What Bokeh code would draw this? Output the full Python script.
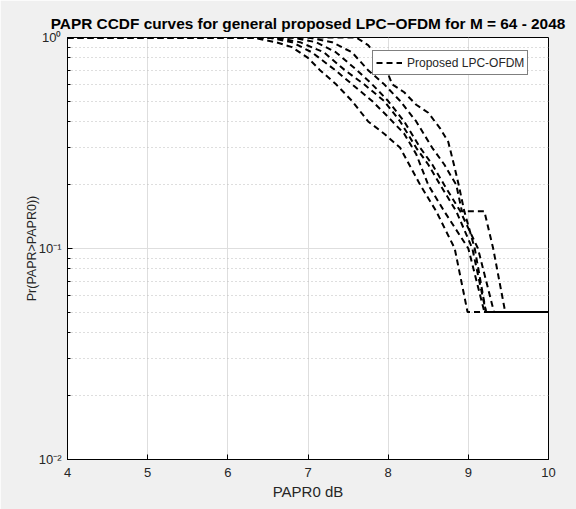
from bokeh.plotting import figure
from bokeh.models import FixedTicker, CustomJSTickFormatter, Range1d, Legend
from bokeh.embed import file_html
from bokeh.resources import INLINE

# ---- data ----
m64_x = [4.0, 6.3, 6.6, 6.8, 7.0, 7.15, 7.35, 7.55, 7.75, 7.95, 8.15, 8.4, 8.6, 8.83, 8.99, 10.0]
m64_y = [1.0, 1.0, 0.95, 0.9, 0.8, 0.7, 0.6, 0.5, 0.4, 0.35, 0.3, 0.2, 0.15, 0.1, 0.05, 0.05]

m128_x = [4.0, 6.5, 6.8, 7.05, 7.34, 7.55, 7.8, 8.0, 8.2, 8.35, 8.5, 8.7, 9.0, 9.2, 10.0]
m128_y = [1.0, 1.0, 0.95, 0.85, 0.7, 0.6, 0.5, 0.42, 0.35, 0.28, 0.2, 0.15, 0.1, 0.05, 0.05]

m256_x = [4.0, 6.6, 6.9, 7.2, 7.46, 7.7, 7.95, 8.15, 8.35, 8.5, 8.65, 8.85, 9.05, 9.22, 10.0]
m256_y = [1.0, 1.0, 0.95, 0.85, 0.7, 0.6, 0.5, 0.4, 0.3, 0.25, 0.2, 0.15, 0.1, 0.05, 0.05]

m512_x = [4.0, 6.8, 7.1, 7.35, 7.61, 7.8, 8.0, 8.2, 8.4, 8.55, 8.7, 8.9, 9.12, 9.32, 10.0]
m512_y = [1.0, 1.0, 0.95, 0.85, 0.7, 0.6, 0.5, 0.4, 0.3, 0.25, 0.2, 0.15, 0.1, 0.05, 0.05]

m1024_x = [4.0, 7.0, 7.3, 7.55, 7.75, 7.95, 8.15, 8.35, 8.55, 8.7, 8.85, 8.92, 9.2, 9.31, 9.46, 10.0]
m1024_y = [1.0, 1.0, 0.95, 0.85, 0.7, 0.6, 0.5, 0.4, 0.3, 0.25, 0.2, 0.15, 0.15, 0.1, 0.05, 0.05]

m2048_x = [4.0, 7.6, 7.75, 7.95, 8.05, 8.2, 8.35, 8.5, 8.65, 8.75, 8.82, 8.88, 8.95, 9.08, 9.22, 10.0]
m2048_y = [1.0, 1.0, 0.92, 0.75, 0.6, 0.55, 0.48, 0.44, 0.37, 0.32, 0.25, 0.2, 0.15, 0.1, 0.05, 0.05]

curves_x = [m64_x, m128_x, m256_x, m512_x, m1024_x, m2048_x]
curves_y = [m64_y, m128_y, m256_y, m512_y, m1024_y, m2048_y]

x_ticks = [4, 5, 6, 7, 8, 9, 10]
y_ticks = [0.01, 0.1, 1.0]
y_minor = [k * d for d in (0.01, 0.1) for k in range(2, 10)]

title_text = "PAPR CCDF curves for general proposed LPC\u2212OFDM for M = 64 - 2048"
x_label = "PAPR0 dB"
y_label = "Pr(PAPR>PAPR0))"
legend_text = "Proposed LPC-OFDM"

FONT = "Liberation Sans"
TXT = "#262626"

p = figure(width=576, height=509, y_axis_type="log",
           x_range=Range1d(4, 10), y_range=Range1d(0.01, 1.0),
           output_backend="svg", toolbar_location=None,
           min_border_left=67, min_border_right=28, min_border_top=37,
           min_border_bottom=50)
p.border_fill_color = "#f0f0f0"
p.background_fill_color = "white"
p.outline_line_color = "black"
p.outline_line_width = 1

p.title.text = title_text
p.title.text_font = FONT
p.title.text_font_size = "15.4px"
p.title.text_font_style = "bold"
p.title.text_color = "black"
p.title.align = "center"
p.title.standoff = 12

renderers = []
for cx, cy in zip(curves_x, curves_y):
    r = p.line(cx, cy, line_color="black", line_width=2, line_dash="6 4")
    renderers.append(r)

# axes
xa = p.xaxis[0]
xa.ticker = FixedTicker(ticks=x_ticks, minor_ticks=[])
xa.axis_label = x_label
ya = p.yaxis[0]
ya.ticker = FixedTicker(ticks=y_ticks, minor_ticks=y_minor)
ya.formatter = CustomJSTickFormatter(code="""
const e = Math.round(Math.log10(tick));
const sup = {'-':'\u207b','0':'\u2070','1':'\u00b9','2':'\u00b2','3':'\u00b3'};
return '10' + String(e).split('').map(c => sup[c]).join('');
""")
ya.axis_label = y_label

for ax in (xa, ya):
    ax.axis_line_color = "black"
    ax.major_tick_in = 5
    ax.major_tick_out = 0
    ax.minor_tick_in = 3
    ax.minor_tick_out = 0
    ax.major_tick_line_color = "black"
    ax.minor_tick_line_color = "black"
    ax.major_label_text_font = FONT
    ax.major_label_text_font_size = "13px"
    ax.major_label_text_color = TXT
    ax.axis_label_text_font = FONT
    ax.axis_label_text_font_style = "normal"
    ax.axis_label_text_color = TXT
xa.axis_label_text_font_size = "15px"
ya.axis_label_text_font_size = "12.5px"
xa.major_label_standoff = 8
xa.axis_label_standoff = 3
ya.major_label_standoff = 6
ya.axis_label_standoff = -3

# grid
p.xgrid.ticker = FixedTicker(ticks=x_ticks)
p.xgrid.grid_line_color = "#dedede"
p.ygrid.ticker = FixedTicker(ticks=y_ticks, minor_ticks=y_minor)
p.ygrid.grid_line_color = "#dedede"
p.ygrid.minor_grid_line_color = "#bdbdbd"
p.ygrid.minor_grid_line_dash = "1 3"

# legend
leg = Legend(items=[(legend_text, [renderers[0]])], location=(305, 384))
leg.label_text_font = FONT
leg.label_text_font_size = "12px"
leg.label_text_color = TXT
leg.border_line_color = "black"
leg.border_line_width = 1
leg.background_fill_color = "white"
leg.background_fill_alpha = 1
leg.padding = 3
leg.margin = 0
leg.glyph_width = 26
leg.glyph_height = 17
leg.label_standoff = 5
leg.spacing = 0
p.add_layout(leg, "center")

open("out.html", "w").write(file_html(p, INLINE))
